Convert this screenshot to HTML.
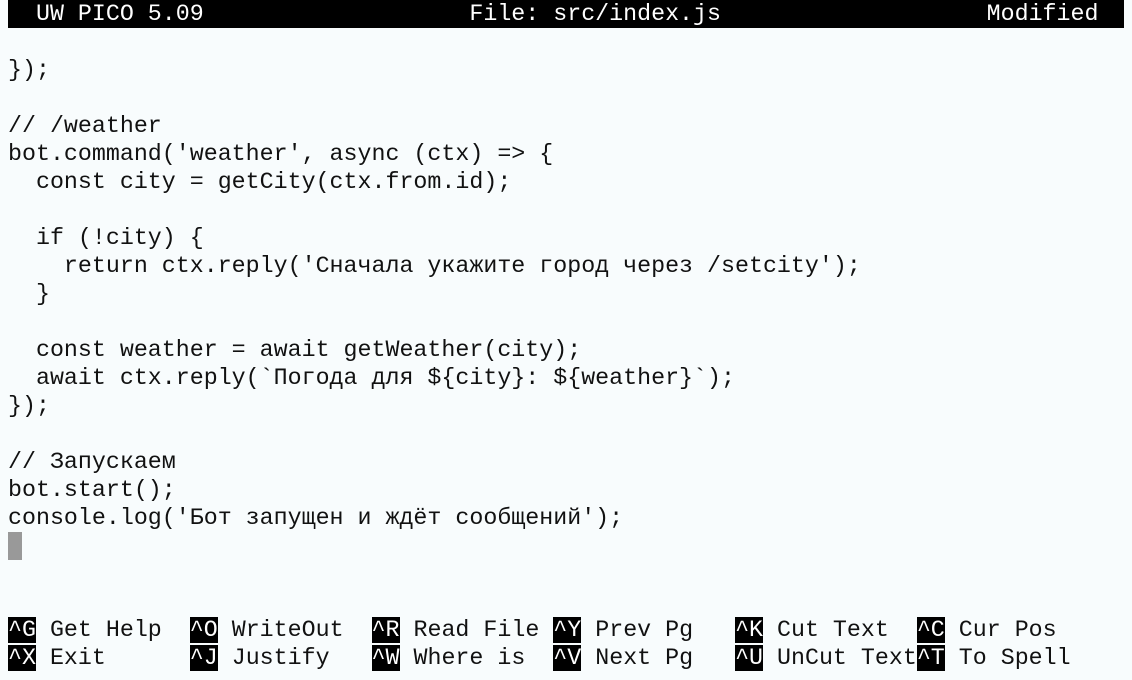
<!DOCTYPE html>
<html><head><meta charset="utf-8"><style>
html,body{margin:0;padding:0;background:#f8fcfd;}
body{width:1132px;height:680px;overflow:hidden;position:relative;}
.l{position:absolute;left:8px;height:28px;line-height:28px;font-family:"Liberation Mono","DejaVu Sans Mono",monospace;font-size:23.3px;white-space:pre;color:#111;}
.t{background:#000;color:#fff;width:1116px;}
.k{background:#000;color:#fff;}
#cur{position:absolute;left:8px;top:532px;width:14px;height:28px;background:#999;}
</style></head><body>
<div class="l t" style="top:0">  UW PICO 5.09                   File: src/index.js                   Modified  </div>
<div class="l" style="top:56px">});</div>
<div class="l" style="top:112px">// /weather</div>
<div class="l" style="top:140px">bot.command('weather', async (ctx) =&gt; {</div>
<div class="l" style="top:168px">  const city = getCity(ctx.from.id);</div>
<div class="l" style="top:224px">  if (!city) {</div>
<div class="l" style="top:252px">    return ctx.reply('Сначала укажите город через /setcity');</div>
<div class="l" style="top:280px">  }</div>
<div class="l" style="top:336px">  const weather = await getWeather(city);</div>
<div class="l" style="top:364px">  await ctx.reply(`Погода для ${city}: ${weather}`);</div>
<div class="l" style="top:392px">});</div>
<div class="l" style="top:448px">// Запускаем</div>
<div class="l" style="top:476px">bot.start();</div>
<div class="l" style="top:504px">console.log('Бот запущен и ждёт сообщений');</div>
<div id="cur"></div>
<div class="l" style="top:616px"><span class="k">^G</span> Get Help  <span class="k">^O</span> WriteOut  <span class="k">^R</span> Read File <span class="k">^Y</span> Prev Pg   <span class="k">^K</span> Cut Text  <span class="k">^C</span> Cur Pos</div>
<div class="l" style="top:644px"><span class="k">^X</span> Exit      <span class="k">^J</span> Justify   <span class="k">^W</span> Where is  <span class="k">^V</span> Next Pg   <span class="k">^U</span> UnCut Text<span class="k">^T</span> To Spell</div>
</body></html>
